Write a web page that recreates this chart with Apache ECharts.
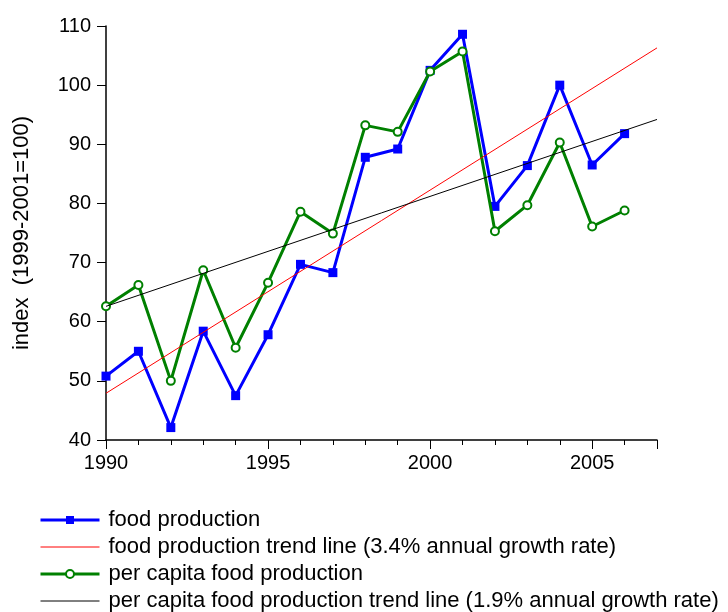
<!DOCTYPE html>
<html>
<head>
<meta charset="utf-8">
<script src="https://cdn.jsdelivr.net/npm/echarts@6/dist/echarts.min.js"></script>
<style>html,body{margin:0;padding:0;background:#fff;}#c{width:728px;height:612px;}</style>
</head>
<body>
<div id="c"></div>
<script>
var years = [1990,1991,1992,1993,1994,1995,1996,1997,1998,1999,2000,2001,2002,2003,2004,2005,2006];
var foodProduction = [50.8,55.0,42.1,58.4,47.5,57.8,69.7,68.3,87.8,89.2,102.5,108.6,79.5,86.4,100.0,86.5,91.8];
var perCapita = [62.6,66.2,50.0,68.7,55.6,66.6,78.6,74.9,93.2,92.1,102.3,105.7,75.3,79.7,90.3,76.1,78.8];
var foodTrendYears = [1990,2007];
var foodTrend = [47.9,106.3];
var perCapitaTrendYears = [1990,2007];
var perCapitaTrend = [62.6,94.2];
var names = ['food production','food production trend line (3.4% annual growth rate)','per capita food production','per capita food production trend line (1.9% annual growth rate)'];
var yTitle = 'index  (1999-2001=100)';

function pairs(xs, ys){ return xs.map(function(x,i){ return [x, ys[i]]; }); }

var chart = echarts.init(document.getElementById('c'));
var font = 'Liberation Sans, Arial, sans-serif';
chart.setOption({
  animation: false,
  grid: {left:106, top:26, right:71, bottom:172},
  legend: {
    orient:'vertical', left:39, top:509, height:110, padding:0,
    itemWidth:59, itemHeight:10, itemGap:5,
    textStyle:{fontFamily:font, fontSize:22, lineHeight:22, color:'#000', padding:[0,0,0,4]},
    data: [
      {name:names[0], lineStyle:{width:3}},
      {name:names[1], itemStyle:{opacity:0}, lineStyle:{width:1}},
      {name:names[2], lineStyle:{width:3}},
      {name:names[3], itemStyle:{opacity:0}, lineStyle:{width:1}}
    ]
  },
  xAxis: [{
    type:'value', min:1990, max:2007, interval:5,
    axisLine:{lineStyle:{color:'#000', width:1.5}},
    axisTick:{length:9, lineStyle:{color:'#000'}},
    axisLabel:{fontFamily:font, fontSize:20, color:'#000', margin:13,
      formatter:function(v){ return v%5===0 ? String(v) : ''; }},
    splitLine:{show:false}
  },{
    type:'value', min:1990, max:2007, interval:1, position:'bottom',
    axisLine:{show:false},
    axisTick:{length:5, lineStyle:{color:'#000'}},
    axisLabel:{show:false}, splitLine:{show:false}
  }],
  yAxis: {
    type:'value', min:40, max:110, interval:10,
    name: yTitle, nameLocation:'middle', nameGap:73, nameRotate:90,
    nameTextStyle:{fontFamily:font, fontSize:22, color:'#000'},
    axisLine:{show:true, lineStyle:{color:'#000', width:1.5}},
    axisTick:{show:true, length:9, lineStyle:{color:'#000'}},
    axisLabel:{fontFamily:font, fontSize:20, color:'#000', margin:15},
    splitLine:{show:false}
  },
  series: [
    {name:names[0], type:'line', data:pairs(years, foodProduction), symbol:'rect', symbolSize:9,
     lineStyle:{color:'#0000ff', width:3}, itemStyle:{color:'#0000ff'}, z:2},
    {name:names[1], type:'line', data:pairs(foodTrendYears, foodTrend), symbol:'none',
     lineStyle:{color:'#ff0000', width:1}, itemStyle:{color:'#ff0000'}, z:4},
    {name:names[2], type:'line', data:pairs(years, perCapita), symbol:'emptyCircle', symbolSize:8,
     lineStyle:{color:'#008000', width:3}, itemStyle:{color:'#008000', borderWidth:2}, z:3},
    {name:names[3], type:'line', data:pairs(perCapitaTrendYears, perCapitaTrend), symbol:'none',
     lineStyle:{color:'#000000', width:1}, itemStyle:{color:'#000000'}, z:5}
  ]
});
</script>
</body>
</html>
